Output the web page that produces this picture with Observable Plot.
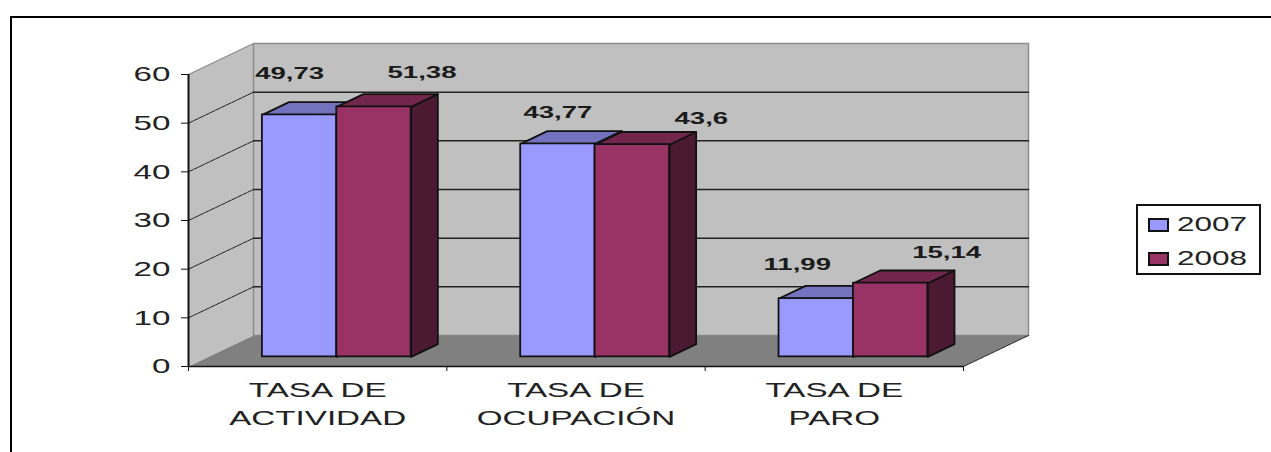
<!DOCTYPE html>
<html>
<head>
<meta charset="utf-8">
<script src="https://cdn.jsdelivr.net/npm/d3@7"></script>
<script src="https://cdn.jsdelivr.net/npm/@observablehq/plot@0.6"></script>
<style>
html,body{margin:0;padding:0;background:#fff;width:1271px;height:452px;overflow:hidden;font-family:"Liberation Sans",Arial,sans-serif}
#frame{position:absolute;left:10px;top:16px;right:0;bottom:0;border-left:2px solid #000;border-top:2px solid #000}
#chart{position:absolute;left:0;top:0}
#chart svg{display:block}
#legend{position:absolute;left:1136px;top:204px;width:121px;height:67px;border:2px solid #111;background:#fff}
.item{position:absolute;left:10px;height:14px;width:100px}
.sw{position:absolute;left:0;top:0;width:17px;height:10px;border:2px solid #111}
.lb{position:absolute;left:29px;top:-5px;font-size:21px;line-height:22px;color:#222;transform:scaleX(1.5);transform-origin:left center}
</style>
</head>
<body>
<div id="frame"></div>
<div id="chart"></div>
<div id="legend"></div>
<script>
// Data
const firstLines = ["TASA DE", "TASA DE", "TASA DE"];
const secondLines = ["ACTIVIDAD", "OCUPACIÓN", "PARO"];
const years = ["2007", "2008"];
const values2007 = [49.73, 43.77, 11.99];
const values2008 = [51.38, 43.6, 15.14];
const yTicks = [0, 10, 20, 30, 40, 50, 60];
const xTicks = [0, 1, 2, 3];

// Styles
const fronts = ["#9999FF", "#993366"];
const tops = ["#7272BF", "#72264C"];
const sides = ["#4C4C7F", "#4C1933"];

// Oblique depth, in data units of the x and y scales
const DX = 0.2516, DY = 6.37;
const dFront = 0.31, dBack = 0.72;
const barW = 0.288, shift = -0.004;
const P = (x, y, d) => ({x: x + d * DX, y: y + d * DY});
const poly = (pts, o) => Plot.line([...pts, pts[0]], {x: "x", y: "y", ...o});

const marks = [];
// walls and floor
marks.push(poly([P(0,0,0), P(0,0,1), P(0,60,1), P(0,60,0)], {fill: "#C0C0C0", stroke: "none"}));
marks.push(poly([P(0,0,1), P(3,0,1), P(3,60,1), P(0,60,1)], {fill: "#C0C0C0", stroke: "#8c8c8c", strokeWidth: 1.5}));
marks.push(poly([P(0,0,0), P(0,0,1), P(3,0,1), P(3,0,0)], {fill: "#808080", stroke: "none"}));
marks.push(Plot.line([P(0,60,0), P(0,60,1)], {x: "x", y: "y", stroke: "#8c8c8c", strokeWidth: 1.2}));
// gridlines
for (const v of yTicks.filter(t => t > 0 && t < 60)) {
  marks.push(Plot.line([P(0,v,0), P(0,v,1)], {x: "x", y: "y", stroke: "#222", strokeWidth: 1, strokeDasharray: "5 1"}));
  marks.push(Plot.line([P(0,v,1), P(3,v,1)], {x: "x", y: "y", stroke: "#222", strokeWidth: 1.5}));
}
// floor right edge
marks.push(Plot.line([P(3,0,0), P(3,0,1)], {x: "x", y: "y", stroke: "#222", strokeWidth: 1, strokeDasharray: "5 1"}));

// bars
[values2007, values2008].forEach((vals, s) => {
  vals.forEach((v, i) => {
    const x0 = i + 0.5 + shift + (s - 1) * barW, x1 = x0 + barW;
    const st = {stroke: "#111", strokeWidth: 1.8, strokeLinejoin: "round"};
    marks.push(poly([P(x1,0,dFront), P(x1,0,dBack), P(x1,v,dBack), P(x1,v,dFront)], {fill: sides[s], ...st}));
    marks.push(poly([P(x0,v,dFront), P(x1,v,dFront), P(x1,v,dBack), P(x0,v,dBack)], {fill: tops[s], ...st}));
    marks.push(Plot.rect([v], {
      x1: () => P(x0,0,dFront).x, x2: () => P(x1,0,dFront).x,
      y1: () => P(0,0,dFront).y, y2: d => P(0,d,dFront).y,
      fill: fronts[s], ...st
    }));
  });
});

// value labels, anchored on the front top centre of their bar
const nudge2007 = [[-10, -41], [0, -31], [-19, -34]];
const nudge2008 = [[48, -34], [69, -26], [56, -31]];
[[values2007, nudge2007], [values2008, nudge2008]].forEach(([vals, nudges], s) => {
  vals.forEach((v, i) => {
    const xc = i + 0.5 + shift + (s - 0.5) * barW + dFront * DX;
    marks.push(Plot.text([v], {
      x: () => xc,
      y: d => d + dFront * DY,
      text: d => String(d).replace(".", ","),
      dx: nudges[i][0], dy: nudges[i][1],
      fontSize: 17, fontWeight: "bold", fill: "#1a1a1a",
      fontFamily: "Liberation Sans", className: "vlabel"
    }));
  });
});

// axes
marks.push(Plot.ruleY([0], {stroke: "#111", strokeWidth: 1.6}));
marks.push(Plot.ruleX([0], {y1: 0, y2: 60, stroke: "#111", strokeWidth: 2}));
marks.push(Plot.axisY({ticks: yTicks, tickSize: 7, tickPadding: 11, fontSize: 21, label: null, stroke: "#111", fill: "#222", className: "tlabel", fontFamily: "Liberation Sans"}));
marks.push(Plot.axisX({ticks: xTicks, tickSize: 5, tickFormat: () => "", label: null, stroke: "#111"}));

// category labels
marks.push(Plot.text(firstLines, {x: (d, i) => i + 0.5, y: () => 0, text: d => d, dy: 24, fontSize: 21, fill: "#222", className: "tlabel", fontFamily: "Liberation Sans"}));
marks.push(Plot.text(secondLines, {x: (d, i) => i + 0.5, y: () => 0, text: d => d, dy: 52, fontSize: 21, fill: "#222", className: "tlabel", fontFamily: "Liberation Sans"}));

const chart = Plot.plot({
  width: 1271, height: 452,
  marginLeft: 188, marginRight: 308, marginTop: 74, marginBottom: 86,
  x: {domain: [0, 3], axis: null},
  y: {domain: [0, 60], axis: null},
  style: {background: "transparent", fontFamily: "Liberation Sans"},
  marks
});
document.getElementById("chart").appendChild(chart);

// The reference's text is horizontally stretched
const stretch = (sel, k) => chart.querySelectorAll(sel).forEach(g => {
  (g.tagName === "text" ? [g] : g.querySelectorAll("text")).forEach(t => {
    if (!t.textContent) return;
    const len = t.getComputedTextLength();
    t.setAttribute("textLength", len * k);
    t.setAttribute("lengthAdjust", "spacingAndGlyphs");
  });
});
stretch(".tlabel", 1.58);
stretch(".vlabel", 1.62);

// legend
const lg = document.getElementById("legend");
years.forEach((y, i) => {
  const it = document.createElement("div");
  it.className = "item";
  it.style.top = (12 + i * 34) + "px";
  it.innerHTML = `<div class="sw" style="background:${fronts[i]}"></div><div class="lb">${y}</div>`;
  lg.appendChild(it);
});
</script>
</body>
</html>
